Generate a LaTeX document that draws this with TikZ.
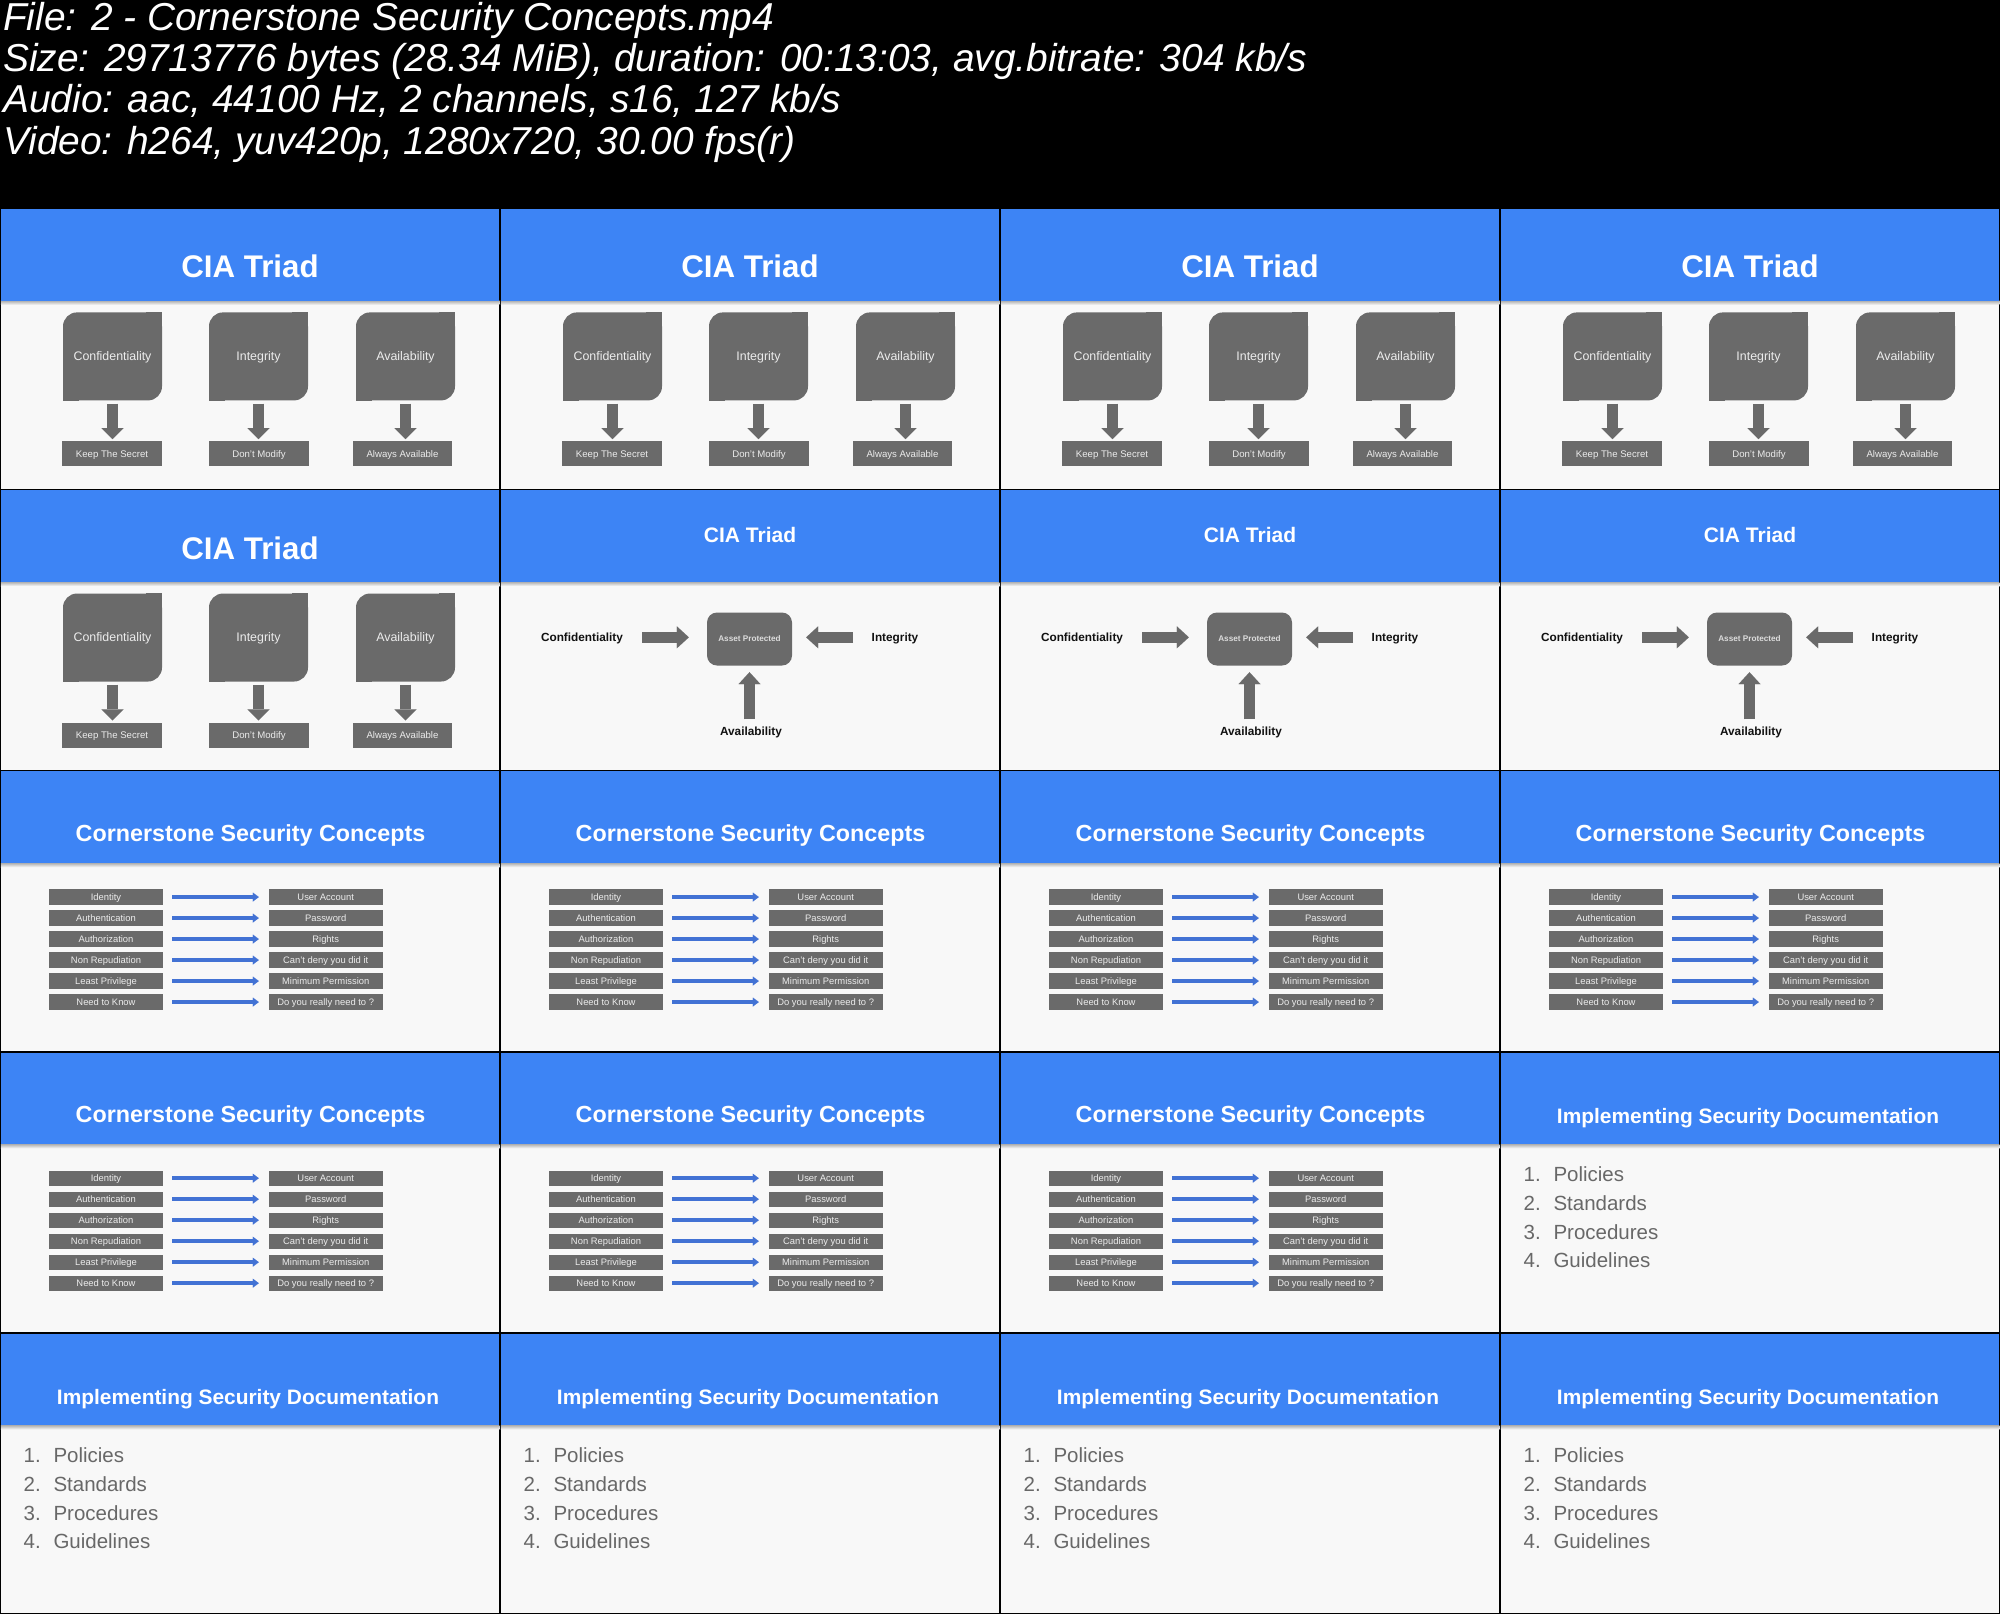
\documentclass[tikz,border=0pt]{standalone}
\usepackage{fontspec}
\setmainfont{Liberation Sans}
\usetikzlibrary{arrows.meta}
\definecolor{slideblue}{RGB}{61,132,245}
\definecolor{slidebg}{RGB}{248,248,248}
\definecolor{boxgray}{RGB}{106,106,106}
\definecolor{boxtext}{RGB}{236,236,236}
\definecolor{assettext}{RGB}{220,220,220}
\definecolor{arrowblue}{RGB}{66,114,212}
\definecolor{listgray}{RGB}{104,104,104}
\definecolor{lblblack}{RGB}{17,17,17}
\newcommand{\fsz}[1]{\fontsize{#1}{#1}\selectfont}
\tikzset{
  hdr/.style={anchor=base west, inner sep=0pt, text=white, font=\itshape\fsz{38.9}},
  ttlA/.style={inner sep=0pt, text=white, text height=22.4pt, text depth=0pt, font=\bfseries\fsz{31.3}},
  ttlB/.style={inner sep=0pt, text=white, text height=15pt, text depth=0pt, font=\bfseries\fsz{21}},
  ttlC/.style={inner sep=0pt, text=white, text height=16.7pt, text depth=0pt, font=\bfseries\fsz{23.3}},
  ttlD/.style={inner sep=0pt, text=white, text height=15pt, text depth=0pt, font=\bfseries\fsz{20.9}},
  bigbox/.style={fill=boxgray, rounded corners=14pt, inner sep=0pt, minimum width=99pt, minimum height=88pt, text=boxtext, text height=8.9pt, text depth=0pt, font=\fsz{12.4}},
  subbox/.style={fill=boxgray, inner sep=0pt, minimum width=99.5pt, minimum height=25pt, text=boxtext, text height=6.9pt, text depth=0pt, font=\fsz{9.6}},
  assetbox/.style={fill=boxgray, rounded corners=10pt, inner sep=0pt, minimum width=85pt, minimum height=53pt, text=assettext, text height=5.9pt, text depth=0pt, font=\bfseries\fsz{8.2}},
  lblB/.style={inner sep=0pt, text=lblblack, text height=8.4pt, text depth=0pt, font=\bfseries\fsz{11.8}},
  rowbox/.style={fill=boxgray, inner sep=0pt, minimum width=114pt, minimum height=15.3pt, text=boxtext, text height=6.7pt, text depth=0pt, font=\fsz{9.4}},
  listtxt/.style={anchor=base west, inner sep=0pt, text=listgray, font=\fsz{20.5}},
  darrow/.style={draw=boxgray, line width=11pt, -{Triangle[width=22pt,length=11pt,line width=0.01pt]}},
  garrow/.style={draw=boxgray, line width=11pt, -{Triangle[width=22pt,length=12pt,line width=0.01pt]}},
  barrow/.style={draw=arrowblue, line width=4pt, -{Triangle[width=9pt,length=6pt,line width=0.01pt]}},
  slidebase/.pic={
    \fill[slidebg] (0.75,0.75) rectangle (499.25,280.4);
    \shade[top color=black!30, bottom color=slidebg] (0.75,92.5) rectangle (499.25,96.5);
    \fill[slideblue] (0.75,0.75) rectangle (499.25,92.5);
  },
  ciaA/.pic={
    \pic {slidebase};
    \node[ttlA] (-title) at (250,58.3) {CIA Triad};
    \node[bigbox] (-c) at (112.5,148) {Confidentiality};
    \node[bigbox] (-i) at (258.5,148) {Integrity};
    \node[bigbox] (-a) at (405.5,148) {Availability};
    \foreach \n in {c,i,a}{
      \fill[boxgray] (-\n.north east) rectangle ++(-16,16);
      \fill[boxgray] (-\n.south west) rectangle ++(16,-16);
    }
    \node[subbox] (-ks) at (112,245.5) {Keep The Secret};
    \node[subbox] (-dm) at (259,245.5) {Don’t Modify};
    \node[subbox] (-aa) at (402.5,245.5) {Always Available};
    \draw[darrow, shorten <=3pt, shorten >=2pt] (-c.south) -- (-c.south |- -ks.north);
    \draw[darrow, shorten <=3pt, shorten >=2pt] (-i.south) -- (-i.south |- -dm.north);
    \draw[darrow, shorten <=3pt, shorten >=2pt] (-a.south) -- (-a.south |- -aa.north);
  },
  ciaB/.pic={
    \pic {slidebase};
    \node[ttlB] (-title) at (250,45.7) {CIA Triad};
    \node[assetbox] (-asset) at (249.5,149.5) {Asset Protected};
    \node[lblB] (-conf) at (82,147.8) {Confidentiality};
    \node[lblB] (-integ) at (395,147.8) {Integrity};
    \node[lblB] (-avail) at (251,241.8) {Availability};
    \draw[garrow, shorten <=19pt, shorten >=18pt] (-conf.east) -- (-conf.east -| -asset.west);
    \draw[garrow, shorten <=18.5pt, shorten >=14pt] (-integ.west) -- (-integ.west -| -asset.east);
    \draw[garrow, shorten <=7.5pt, shorten >=6.5pt] (-asset.south |- -avail.north) -- (-asset.south);
  },
  corner/.pic={
    \pic {slidebase};
    \node[ttlC] (-title) at (250.5,62.7) {Cornerstone Security Concepts};
    \foreach \k/\l/\r in {0/Identity/User Account,1/Authentication/Password,2/Authorization/Rights,3/Non Repudiation/Can’t deny you did it,4/Least Privilege/Minimum Permission,5/Need to Know/Do you really need to ?}{
      \node[rowbox] (-l\k) at (106,{126.4+21*\k}) {\l};
      \node[rowbox] (-r\k) at (325.7,{126.4+21*\k}) {\r};
      \draw[barrow, shorten <=9pt, shorten >=9.7pt] (-l\k) -- (-r\k);
    }
  },
  impl/.pic={
    \pic {slidebase};
    \node[ttlD] (-title) at (248,64.4) {Implementing Security Documentation};
    \foreach \k/\t in {1/Policies,2/Standards,3/Procedures,4/Guidelines}{
      \node[listtxt] (-n\k) at (23.5,{129.9+28.7*(\k-1)}) {\k.};
      \node[listtxt] (-t\k) at (53.3,{129.9+28.7*(\k-1)}) {\t};
    }
  }
}
\begin{document}
\begin{tikzpicture}[x=1pt,y=-1pt]
\useasboundingbox (0,0) rectangle (2000,1614);
\fill[black] (0,0) rectangle (2000,1614);
\node[hdr] (h1) at (3,30) {File: 2 - Cornerstone Security Concepts.mp4};
\node[hdr] (h2) at (3,71.3) {Size: 29713776 bytes (28.34 MiB), duration: 00:13:03, avg.bitrate: 304 kb/s};
\node[hdr] (h3) at (3,112.7) {Audio: aac, 44100 Hz, 2 channels, s16, 127 kb/s};
\node[hdr] (h4) at (3,154) {Video: h264, yuv420p, 1280x720, 30.00 fps(r)};
% row 1
\pic (s11) at (0,208.4) {ciaA};
\pic (s12) at (500,208.4) {ciaA};
\pic (s13) at (1000,208.4) {ciaA};
\pic (s14) at (1500,208.4) {ciaA};
% row 2
\pic (s21) at (0,489.52) {ciaA};
\pic (s22) at (500,489.52) {ciaB};
\pic (s23) at (1000,489.52) {ciaB};
\pic (s24) at (1500,489.52) {ciaB};
% row 3
\pic (s31) at (0,770.64) {corner};
\pic (s32) at (500,770.64) {corner};
\pic (s33) at (1000,770.64) {corner};
\pic (s34) at (1500,770.64) {corner};
% row 4
\pic (s41) at (0,1051.76) {corner};
\pic (s42) at (500,1051.76) {corner};
\pic (s43) at (1000,1051.76) {corner};
\pic (s44) at (1500,1051.76) {impl};
% row 5
\pic (s51) at (0,1332.88) {impl};
\pic (s52) at (500,1332.88) {impl};
\pic (s53) at (1000,1332.88) {impl};
\pic (s54) at (1500,1332.88) {impl};
\end{tikzpicture}
\end{document}
